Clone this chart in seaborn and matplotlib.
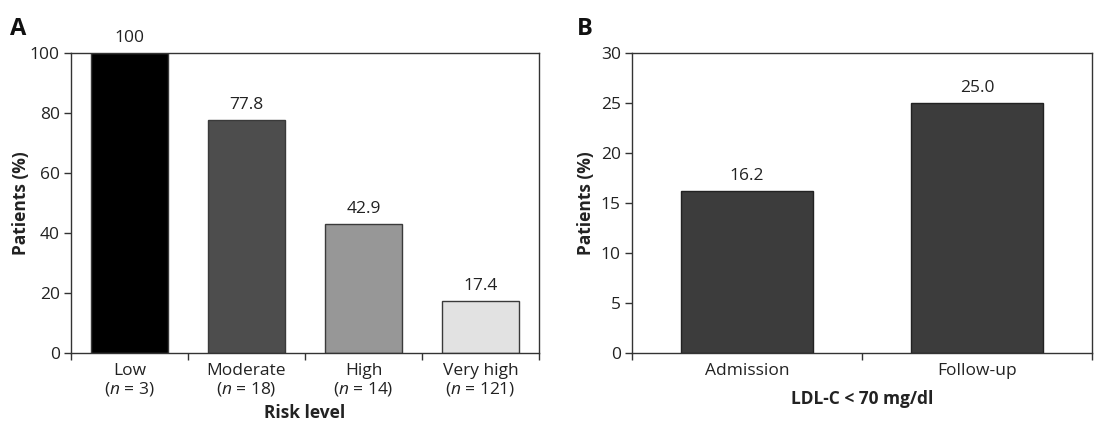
import pandas as pd
import matplotlib
matplotlib.use("Agg")
import matplotlib.pyplot as plt
import seaborn as sns

# datos del panel A
risk_levels = ["Low", "Moderate", "High", "Very high"]
risk_n = [3, 18, 14, 121]
risk_pct = [100, 77.8, 42.9, 17.4]
risk_labels = ["100", "77.8", "42.9", "17.4"]
risk_colors = ["#000000", "#4d4d4d", "#979797", "#e2e2e2"]

# datos del panel B
ldl_groups = ["Admission", "Follow-up"]
ldl_pct = [16.2, 25.0]
ldl_labels = ["16.2", "25.0"]

sns.set_style("white")
plt.rcParams['font.family'] = ['Open Sans', 'DejaVu Sans']
plt.rcParams['mathtext.fontset'] = 'custom'
plt.rcParams['mathtext.it'] = 'Open Sans:italic'
plt.rcParams['mathtext.rm'] = 'Open Sans'

txt = "#222222"
spine_c = "#333333"
fs = 12.5

fig = plt.figure(figsize=(10.97, 4.28), dpi=100)
axA = fig.add_axes([0.0647, 0.1752, 0.4266, 0.701])
axB = fig.add_axes([0.5761, 0.1752, 0.4193, 0.701])

dfA = pd.DataFrame({"risk": risk_levels, "pct": risk_pct})
sns.barplot(data=dfA, x="risk", y="pct", hue="risk", palette=risk_colors,
            legend=False, width=0.66, edgecolor="#3a3a3a", linewidth=1, ax=axA)

dfB = pd.DataFrame({"grp": ldl_groups, "pct": ldl_pct})
sns.barplot(data=dfB, x="grp", y="pct", color="#3c3c3c", saturation=1,
            width=0.57, edgecolor="#222222", linewidth=1, ax=axB)

labels_vals = {axA: risk_labels, axB: ldl_labels}


def style_axis(ax, n, ylim, yticks, labels, values, xlabel, xpad, ylab_x):
    ax.set_xlim(-0.5, n - 0.5)
    ax.set_ylim(0, ylim)
    ax.set_yticks(yticks)
    ax.set_xticks([i - 0.5 for i in range(n + 1)])
    ax.set_xticklabels([])
    ax.set_xticks(range(n), minor=True)
    ax.set_xticklabels(labels, minor=True, fontsize=fs, color=txt, linespacing=1.1)
    ax.tick_params(axis="x", which="major", direction="out", length=5, width=1,
                   color=spine_c, bottom=True)
    ax.tick_params(axis="x", which="minor", length=0, pad=7)
    ax.tick_params(axis="y", direction="out", length=5, width=1, color=spine_c,
                   left=True, labelsize=fs, labelcolor=txt, pad=3)
    for s in ax.spines.values():
        s.set_visible(True)
        s.set_color(spine_c)
        s.set_linewidth(1)
    ax.set_ylabel("Patients (%)", fontsize=fs, fontweight="bold", color=txt)
    ax.yaxis.set_label_coords(ylab_x, 0.5)
    ax.set_xlabel(xlabel, fontsize=fs, fontweight="bold", color=txt, labelpad=xpad)
    for i, (v, lab) in enumerate(zip(values, labels_vals[ax])):
        ax.annotate(lab, (i, v), xytext=(0, 5), textcoords="offset points",
                    ha="center", va="bottom", fontsize=fs, color=txt)


tickA = [f"{r}\n($\\it{{n}}$ = {n})" for r, n in zip(risk_levels, risk_n)]
style_axis(axA, 4, 100, range(0, 101, 20), tickA, risk_pct, "Risk level", 4, -0.088)
style_axis(axB, 2, 30, range(0, 31, 5), ldl_groups, ldl_pct, "LDL-C < 70 mg/dl", 8, -0.080)

fig.text(0.009, 0.918, "A", fontsize=17, fontweight="bold", color="#111111")
fig.text(0.526, 0.918, "B", fontsize=17, fontweight="bold", color="#111111")

fig.savefig("out.png", dpi=100)
